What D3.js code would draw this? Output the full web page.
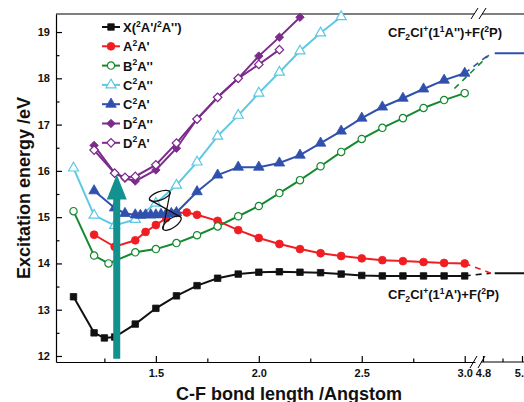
<!DOCTYPE html>
<html>
<head>
<meta charset="utf-8">
<script src="https://cdn.jsdelivr.net/npm/d3@7"></script>
<style>
body { margin: 0; background: #fff; }
svg { display: block; font-family: "Liberation Sans", Arial, sans-serif; font-weight: bold; }
</style>
</head>
<body>
<svg id="chart" width="524" height="402"></svg>
<script>
// bond length (Angstrom) / excitation energy (eV)
var xX = [1.1, 1.2, 1.25, 1.3, 1.4, 1.5, 1.6, 1.7, 1.8, 1.9, 2.0, 2.1, 2.2, 2.3, 2.4, 2.5, 2.6, 2.7, 2.8, 2.9, 3.0];
var eX = [13.28, 12.5, 12.39, 12.41, 12.69, 13.03, 13.3, 13.52, 13.68, 13.77, 13.81, 13.82, 13.81, 13.8, 13.77, 13.74, 13.73, 13.73, 13.73, 13.73, 13.73];

var xA = [1.2, 1.3, 1.4, 1.45, 1.5, 1.55, 1.6, 1.65, 1.7, 1.8, 1.9, 2.0, 2.1, 2.2, 2.3, 2.4, 2.5, 2.6, 2.7, 2.8, 2.9, 3.0];
var eA = [14.62, 14.36, 14.5, 14.68, 14.83, 14.98, 15.09, 15.1, 15.05, 14.92, 14.72, 14.55, 14.42, 14.31, 14.22, 14.16, 14.11, 14.07, 14.05, 14.03, 14.01, 14.0];

var xB = [1.1, 1.2, 1.27, 1.4, 1.5, 1.6, 1.7, 1.8, 1.9, 2.0, 2.1, 2.2, 2.3, 2.4, 2.5, 2.6, 2.7, 2.8, 2.9, 3.0];
var eB = [15.13, 14.17, 14.0, 14.24, 14.31, 14.44, 14.61, 14.8, 15.02, 15.24, 15.52, 15.8, 16.1, 16.41, 16.69, 16.93, 17.14, 17.36, 17.53, 17.68];

var xC2 = [1.1, 1.2, 1.3, 1.4, 1.5, 1.6, 1.7, 1.8, 1.9, 2.0, 2.1, 2.2, 2.3, 2.4];
var eC2 = [16.06, 15.04, 14.82, 14.95, 15.3, 15.69, 16.19, 16.75, 17.2, 17.68, 18.13, 18.59, 18.98, 19.33];

var xC1 = [1.2, 1.3, 1.35, 1.4, 1.425, 1.45, 1.475, 1.5, 1.525, 1.55, 1.575, 1.6, 1.7, 1.8, 1.9, 2.0, 2.1, 2.2, 2.3, 2.4, 2.5, 2.6, 2.7, 2.8, 2.9, 3.0];
var eC1 = [15.57, 15.2, 15.08, 15.05, 15.04, 15.05, 15.05, 15.05, 15.06, 15.07, 15.08, 15.1, 15.55, 15.91, 16.08, 16.08, 16.17, 16.34, 16.6, 16.86, 17.14, 17.38, 17.57, 17.77, 17.96, 18.11];

var xD2 = [1.2, 1.3, 1.35, 1.4, 1.5, 1.6, 1.7, 1.8, 1.9, 2.0, 2.1, 2.2];
var eD2 = [16.55, 15.95, 15.84, 15.78, 16.02, 16.49, 17.12, 17.59, 18.0, 18.48, 18.89, 19.32];

var xD1 = [1.2, 1.3, 1.35, 1.4, 1.5, 1.6, 1.7, 1.8, 1.9, 2.0, 2.1];
var eD1 = [16.45, 15.95, 15.86, 15.88, 16.13, 16.6, 17.12, 17.59, 18.0, 18.3, 18.62];

// dissociation limits at the far right (after the axis break)
var limitLow = 13.79, limitHigh = 18.54;
var dashX = [[3.0, 13.73], [4.84, limitLow]];
var dashA = [[3.0, 14.0], [4.84, limitLow]];
var dashB = [[2.95, 17.78], [4.83, 18.5]];
var dashC1 = [[3.0, 18.11], [4.84, limitHigh]];

var seriesNames = ["X(^2A'/^2A'')", "A^2A'", "B^2A''", "C^2A''", "C^2A'", "D^2A''", "D^2A'"];
var seriesColors = ["#111111", "#f01e23", "#14892f", "#5ec8e2", "#3050ad", "#7c2a8c", "#7c2a8c"];

var xTicks1 = [1.5, 2.0, 2.5, 3.0], xMinor1 = [1.25, 1.75, 2.25, 2.75];
var xTicks2 = [4.8, 5.0], xMinor2 = [4.9];
var yTicks = [12, 13, 14, 15, 16, 17, 18, 19];
var yMinor = [12.5, 13.5, 14.5, 15.5, 16.5, 17.5, 18.5];

var svg = d3.select('#chart');
var plotL = 56, plotT = 14, plotB = 362;

var x1 = d3.scaleLinear().domain([1.015, 3.05]).range([plotL, 475]);
var x2 = d3.scaleLinear().domain([4.8, 5.0]).range([483, 522]);
var y = d3.scaleLinear().domain([11.87, 19.39]).range([plotB, plotT]);
function X(v) { return v < 3.5 ? x1(v) : x2(v); }

// text with ^ superscript and _ subscript single characters
function rich(sel, str, fs) {
    var shift = 0;
    for (var i = 0; i < str.length; i++) {
        var c = str[i], mode = 0;
        if (c == '^' || c == '_') { mode = c == '^' ? -0.42 : 0.22; c = str[++i]; }
        var target = mode * fs;
        var t = sel.append('tspan').text(c);
        if (target !== shift) { t.attr('dy', target - shift); shift = target; }
        if (mode) t.attr('font-size', fs * 0.66);
    }
    return sel;
}

// axes
var axisFont = 11;
svg.append('g').attr('transform', 'translate(0,' + plotB + ')')
    .call(d3.axisBottom(x1).tickValues(xTicks1).tickSize(-6).tickSizeOuter(0).tickPadding(7).tickFormat(d3.format('.1f')));
svg.append('g').attr('transform', 'translate(0,' + plotB + ')')
    .call(d3.axisBottom(x1).tickValues(xMinor1).tickSize(-3.5).tickFormat(''))
    .select('.domain').remove();
var gx2 = svg.append('g').attr('transform', 'translate(0,' + plotB + ')')
    .call(d3.axisBottom(x2).tickValues(xTicks2).tickSize(-6).tickPadding(7).tickFormat(d3.format('.1f')));
gx2.select('.domain').remove();
svg.append('g').attr('transform', 'translate(0,' + plotB + ')')
    .call(d3.axisBottom(x2).tickValues(xMinor2).tickSize(-3.5).tickFormat(''))
    .select('.domain').remove();
svg.append('line').attr('x1', 481).attr('x2', 530).attr('y1', plotB).attr('y2', plotB)
    .attr('stroke', '#000').attr('stroke-width', 1.2);

svg.append('g').attr('transform', 'translate(' + plotL + ',0)')
    .call(d3.axisLeft(y).tickValues(yTicks).tickSize(-6).tickSizeOuter(0).tickPadding(6).tickFormat(d3.format('d')));
svg.append('g').attr('transform', 'translate(' + plotL + ',0)')
    .call(d3.axisLeft(y).tickValues(yMinor).tickSize(-3.5).tickFormat(''))
    .select('.domain').remove();

svg.selectAll('.tick text').attr('font-size', axisFont).attr('font-family', '"Liberation Sans", Arial, sans-serif')
    .attr('font-weight', 'bold').attr('fill', '#111');
svg.selectAll('.domain, .tick line').attr('stroke', '#000').attr('stroke-width', 1.2);

// top frame with break
svg.append('line').attr('x1', plotL).attr('x2', 474).attr('y1', plotT).attr('y2', plotT).attr('stroke', '#000').attr('stroke-width', 1.2);
svg.append('line').attr('x1', 482).attr('x2', 530).attr('y1', plotT).attr('y2', plotT).attr('stroke', '#000').attr('stroke-width', 1.2);
[[471, 478], [479, 486]].forEach(function (b) {
    svg.append('line').attr('x1', b[0]).attr('y1', plotT + 5).attr('x2', b[1]).attr('y2', plotT - 6).attr('stroke', '#000').attr('stroke-width', 1);
    svg.append('line').attr('x1', b[0] - 1).attr('y1', plotB + 6).attr('x2', b[1] - 1).attr('y2', plotB - 6).attr('stroke', '#000').attr('stroke-width', 1);
});

// axis titles
svg.append('text').attr('x', 289).attr('y', 400).attr('text-anchor', 'middle').attr('font-size', 18)
    .attr('fill', '#111').text('C-F bond length /Angstom');
svg.append('text').attr('transform', 'translate(30,188) rotate(-90)').attr('text-anchor', 'middle').attr('font-size', 18)
    .attr('fill', '#111').text('Excitation energy /eV');

// dashed extensions and limit lines
var line = d3.line().x(function (d) { return X(d[0]); }).y(function (d) { return y(d[1]); });
[[dashX, 0], [dashA, 1], [dashB, 2], [dashC1, 4]].forEach(function (p) {
    svg.append('path').attr('d', line(p[0])).attr('fill', 'none').attr('stroke', seriesColors[p[1]])
        .attr('stroke-width', 1.6).attr('stroke-dasharray', '6,5');
});
[[limitLow, 0], [limitHigh, 4]].forEach(function (p) {
    svg.append('path').attr('d', line([[4.86, p[0]], [5.1, p[0]]])).attr('fill', 'none')
        .attr('stroke', seriesColors[p[1]]).attr('stroke-width', 2);
});

// series
var series = [
    { xs: xX, es: eX, sym: d3.symbolSquare, size: 42, open: false, rot: 0 },
    { xs: xA, es: eA, sym: d3.symbolCircle, size: 48, open: false, rot: 0 },
    { xs: xB, es: eB, sym: d3.symbolCircle, size: 42, open: true, rot: 0 },
    { xs: xC2, es: eC2, sym: d3.symbolTriangle, size: 44, open: true, rot: 0 },
    { xs: xC1, es: eC1, sym: d3.symbolTriangle, size: 48, open: false, rot: 0 },
    { xs: xD2, es: eD2, sym: d3.symbolSquare, size: 36, open: false, rot: 45 },
    { xs: xD1, es: eD1, sym: d3.symbolSquare, size: 36, open: true, rot: 45 }
];
series.forEach(function (s, k) { s.color = seriesColors[k]; s.name = seriesNames[k]; });

function drawMarker(g, s, px, py) {
    g.append('path').attr('d', d3.symbol().type(s.sym).size(s.size)())
        .attr('transform', 'translate(' + px + ',' + py + ') rotate(' + s.rot + ')')
        .attr('fill', s.open ? '#fff' : s.color).attr('stroke', s.color).attr('stroke-width', s.open ? 1.2 : 0.8);
}

var gs = svg.append('g');
series.forEach(function (s) {
    var pts = s.xs.map(function (v, i) { return [v, s.es[i]]; });
    gs.append('path').attr('d', line(pts)).attr('fill', 'none').attr('stroke', s.color).attr('stroke-width', 2);
});
series.forEach(function (s) {
    s.xs.forEach(function (v, i) { drawMarker(gs, s, x1(v), y(s.es[i])); });
});

// conical intersection sketch
var ci = svg.append('g').attr('fill', 'none').attr('stroke', '#111').attr('stroke-width', 1.2);
var upC = [x1(1.519), y(15.46)], loC = [x1(1.578), y(14.87)];
ci.append('ellipse').attr('rx', 11).attr('ry', 4.2)
    .attr('transform', 'translate(' + upC + ') rotate(-20)');
ci.append('ellipse').attr('rx', 10.8).attr('ry', 4.6)
    .attr('transform', 'translate(' + loC + ') rotate(-34)');
function endPt(c, r, a, sgn) { var t = a * Math.PI / 180; return [c[0] + sgn * r * Math.cos(t), c[1] + sgn * r * Math.sin(t)]; }
var A = endPt(upC, 11, -20, -1), B = endPt(upC, 11, -20, 1);
var C = endPt(loC, 10.8, -34, -1), D = endPt(loC, 10.8, -34, 1);
ci.append('path').attr('d', 'M' + A + 'L' + D + 'M' + B + 'L' + C);

// excitation arrow
var arrowX = x1(1.31), arrowTop = y(15.92), headBase = y(15.38);
svg.append('rect').attr('x', arrowX - 3.5).attr('width', 7).attr('y', headBase - 1).attr('height', y(11.94) - headBase + 1)
    .attr('fill', '#12918f');
svg.append('path').attr('d', 'M' + (arrowX - 10) + ',' + headBase + 'L' + arrowX + ',' + arrowTop + 'L' + (arrowX + 10) + ',' + headBase + 'Z')
    .attr('fill', '#12918f');

// limit labels
rich(svg.append('text').attr('x', 388).attr('y', 37).attr('font-size', 13).attr('fill', '#111'), "CF_2Cl^+(1^1A'')+F(^2P)", 13);
rich(svg.append('text').attr('x', 388).attr('y', 299).attr('font-size', 13).attr('fill', '#111'), "CF_2Cl^+(1^1A')+F(^2P)", 13);

// legend
var lg = svg.append('g');
series.forEach(function (s, k) {
    var ly = 27 + k * 19.3;
    lg.append('line').attr('x1', 102).attr('x2', 120).attr('y1', ly).attr('y2', ly).attr('stroke', s.color).attr('stroke-width', 2);
    drawMarker(lg, s, 111, ly);
    rich(lg.append('text').attr('x', 123).attr('y', ly + 5).attr('font-size', 13).attr('fill', '#111'), s.name, 13);
});
</script>
</body>
</html>
